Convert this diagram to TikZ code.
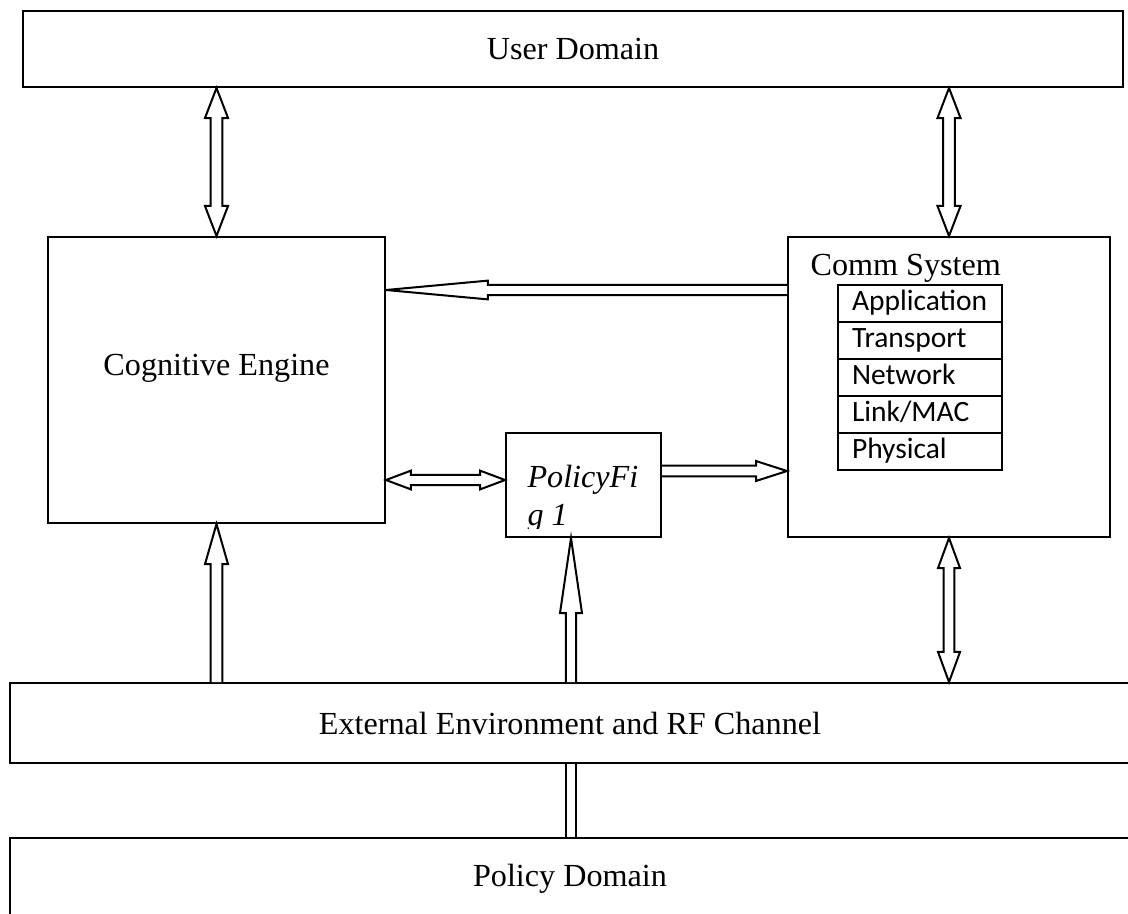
\documentclass[tikz,border=0pt]{standalone}
\usepackage{fontspec}
\setmainfont{Liberation Serif}
\newfontfamily\calibri{Carlito}
\usetikzlibrary{calc,positioning}

% Pixel unit of the drawing
\newcommand{\pxu}{0.373pt}

% Hollow block arrows: tail, tip, shaft half width, head half width, head length
\newcommand{\onearrow}[5]{%
  \coordinate (hd) at ($(#2)!#5!(#1)$);
  \draw[blockarrow] ($(#1)!#3!90:(#2)$) -- ($(hd)!#3!90:(#2)$) -- ($(hd)!#4!90:(#2)$) -- (#2)
    -- ($(hd)!#4!-90:(#2)$) -- ($(hd)!#3!-90:(#2)$) -- ($(#1)!#3!-90:(#2)$);}
\newcommand{\twoarrow}[5]{%
  \coordinate (hd) at ($(#2)!#5!(#1)$);
  \coordinate (tl) at ($(#1)!#5!(#2)$);
  \draw[blockarrow] (#1) -- ($(tl)!#4!90:(#2)$) -- ($(tl)!#3!90:(#2)$) -- ($(hd)!#3!90:(#2)$)
    -- ($(hd)!#4!90:(#2)$) -- (#2) -- ($(hd)!#4!-90:(#2)$) -- ($(hd)!#3!-90:(#2)$)
    -- ($(tl)!#3!-90:(#2)$) -- ($(tl)!#4!-90:(#2)$) -- cycle;}

\begin{document}
\begin{tikzpicture}[
    x=\pxu, y=-\pxu,
    box/.style={rectangle, draw, line width=0.75pt, font=\fontsize{12}{14}\selectfont},
    layer/.style={rectangle, draw, line width=0.75pt, outer sep=0pt, minimum width=164*\pxu, minimum height=37*\pxu,
        inner xsep=14*\pxu, inner ysep=0pt, text width=136*\pxu, text height=8pt, text depth=2.5pt,
        align=left, font=\calibri\fontsize{11}{13}\selectfont},
    blockarrow/.style={draw, fill=white, line width=0.75pt, line join=miter}
]
\clip (0,0) rectangle (1128,913);

% Domains oben und unten
\node[box, minimum width=1100*\pxu, minimum height=76*\pxu] (user) at (573,49) {User Domain};
\node[box, minimum width=1120*\pxu, minimum height=80*\pxu] (ext) at (570,723) {External Environment and RF Channel};
\node[box, minimum width=1120*\pxu, minimum height=82*\pxu] (poldom) at (570,879) {Policy Domain};

% Hauptbloecke
\node[box, minimum width=337*\pxu, minimum height=286*\pxu, text depth=11pt] (cog) at (216.5,380) {Cognitive Engine};
\node[box, minimum width=322*\pxu, minimum height=300*\pxu] (comm) at (949,387) {};
\node[box, minimum width=155*\pxu, minimum height=104*\pxu] (pol) at (583.5,485) {};

% Policy text, unten abgeschnitten
\begin{scope}
\clip (pol.north west) rectangle ($(pol.south east)+(0,-10)$);
\node[anchor=north west, inner sep=0pt, align=left, font=\itshape\fontsize{12}{14.2}\selectfont] (poltext) at (527,465) {PolicyFi\\g 1};
\end{scope}

% Comm System mit Schichten
\node[anchor=base west, inner sep=0pt, font=\fontsize{12}{14}\selectfont] (commtitle) at (810,275) {Comm System};
\node[layer] (app) at (920,303.5) {Application};
\node[layer, below=0pt of app] (trans) {Transport};
\node[layer, below=0pt of trans] (net) {Network};
\node[layer, below=0pt of net] (link) {Link/MAC};
\node[layer, below=0pt of link] (phy) {Physical};

% Verbindungen nach oben
\coordinate (uc) at (cog.north |- user.south);
\twoarrow{uc}{cog.north}{2.2pt}{4.3pt}{11.2pt}
\coordinate (um) at (comm.north |- user.south);
\twoarrow{um}{comm.north}{2.2pt}{4.3pt}{11.2pt}

% Rueckkopplung Comm System -> Cognitive Engine
\coordinate (fb) at ($(comm.north west)+(0,54)$);
\coordinate (fbt) at (fb -| cog.east);
\onearrow{fb}{fbt}{1.9pt}{3.5pt}{38pt}

% Cognitive Engine <-> Policy -> Comm System
\coordinate (cp) at ($(pol.west)+(0,-5)$);
\coordinate (cpt) at (cp -| cog.east);
\twoarrow{cpt}{cp}{1.9pt}{3.5pt}{9.3pt}
\coordinate (pc) at ($(pol.east)+(0,-14)$);
\coordinate (pct) at (pc -| comm.west);
\onearrow{pc}{pct}{2pt}{3.7pt}{11.5pt}

% Verbindungen von unten
\coordinate (ec) at (cog.south |- ext.north);
\onearrow{ec}{cog.south}{2.2pt}{4.3pt}{15pt}
\coordinate (pe) at ($(pol.south)+(-12.5,0)$);
\coordinate (ep) at (pe |- ext.north);
\onearrow{ep}{pe}{1.9pt}{4.1pt}{28pt}
\coordinate (em) at (comm.south |- ext.north);
\twoarrow{comm.south}{em}{2pt}{4.1pt}{11.2pt}

% Policy Domain -> External Environment
\coordinate (ed) at (pe |- ext.south);
\coordinate (dd) at (pe |- poldom.north);
\draw[line width=0.75pt] ($(ed)+(-5,0)$) -- ($(dd)+(-5,0)$);
\draw[line width=0.75pt] ($(ed)+(5,0)$) -- ($(dd)+(5,0)$);
\end{tikzpicture}
\end{document}
